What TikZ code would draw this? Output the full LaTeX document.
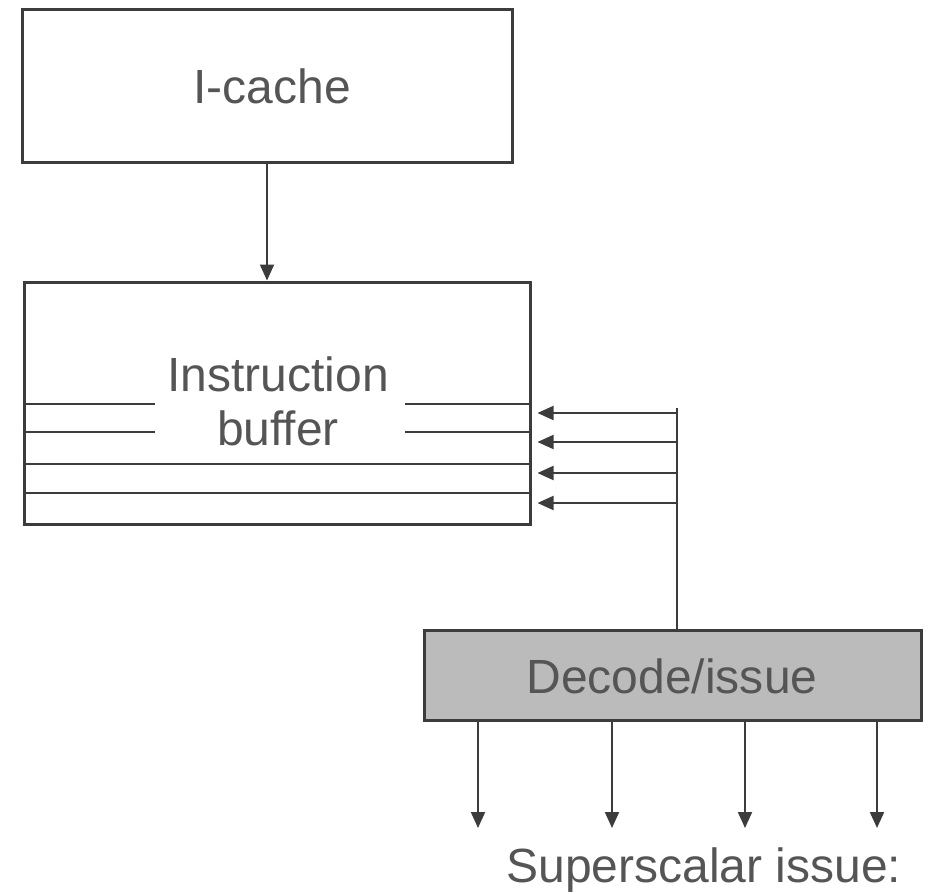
\documentclass[tikz,border=0pt]{standalone}
\usepackage{fontspec}
\setmainfont{Liberation Sans}
\usetikzlibrary{arrows.meta,calc}
\definecolor{ink}{HTML}{3C3C3C}
\definecolor{txt}{HTML}{555555}
\definecolor{shade}{HTML}{BBBBBB}
\tikzset{
  unitbox/.style={draw=ink, line width=3pt, inner sep=0pt},
  label48/.style={text=txt, inner sep=0pt, font=\fontsize{48}{54}\selectfont},
  rowline/.style={draw=ink, line width=1.6pt},
  link/.style={draw=ink, line width=2pt, -{Triangle[length=16pt,width=14pt]}},
  plain/.style={draw=ink, line width=2pt}
}
\begin{document}
\begin{tikzpicture}[x=1pt,y=-1pt]
\useasboundingbox (0,0) rectangle (933,893);

% cache and buffer blocks
\node[unitbox, minimum width=490pt, minimum height=153pt] (icache) at (267,86.5) {};
\node[label48] (icachetxt) at (272,86) {I-cache};
\node[unitbox, minimum width=506pt, minimum height=242pt] (buf) at (277,403) {};
\node[label48, align=center] (buftxt) at (278,401) {Instruction\\buffer};

% buffer slots (the upper two are interrupted by the label)
\draw[rowline] (buf.west |- 0,404) -- (155,404);
\draw[rowline] (405,404) -- (buf.east |- 0,404);
\draw[rowline] (buf.west |- 0,432) -- (155,432);
\draw[rowline] (405,432) -- (buf.east |- 0,432);
\draw[rowline] (buf.west |- 0,464) -- (buf.east |- 0,464);
\draw[rowline] (buf.west |- 0,493) -- (buf.east |- 0,493);

% fetch path
\draw[link] (icache.south) -- (icache.south |- buf.north);

% decode / issue unit
\node[unitbox, fill=shade, minimum width=497pt, minimum height=90pt] (dec) at (672.5,675) {};
\node[label48] (dectxt) at (672,676) {Decode/issue};

% return path into the buffer slots
\coordinate (fbtop) at (677,408);
\coordinate (fb1) at (677,413);
\coordinate (fb2) at (677,442);
\coordinate (fb3) at (677,473);
\coordinate (fb4) at (677,503);
\draw[plain] (fbtop) -- (fbtop |- dec.north);
\foreach \k in {1,2,3,4} {
  \draw[link, shorten >=6pt] (fb\k) -- (fb\k -| buf.east);
}

% issue outputs
\foreach \k/\xx in {1/478,2/612,3/745,4/877} {
  \coordinate (out\k) at (\xx,828);
  \draw[link] (out\k |- dec.south) -- (out\k);
}
\node[label48] (issuetxt) at (704,870) {Superscalar issue:};
\end{tikzpicture}
\end{document}
